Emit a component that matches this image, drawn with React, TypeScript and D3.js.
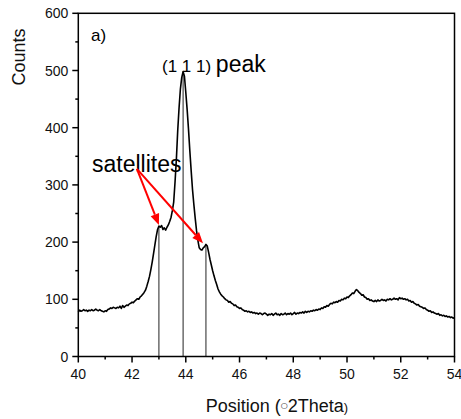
import React from "react";
import * as d3 from "d3";

// XRD scan: counts sampled every 0.05 °2Theta starting at 40
const scanStart = 40;
const scanStep = 0.05;
const counts = [
  78, 81, 79, 80, 82, 80, 81, 79, 81, 80, 82, 80, 81, 83, 81, 80, 82, 80, 79, 78,
  80, 79, 82, 83, 85, 84, 86, 85, 84, 86, 85, 88, 84, 89, 86, 88, 90, 89, 92, 93,
  95, 94, 97, 99, 101, 100, 104, 106, 109, 112, 116, 123, 131, 140, 152, 165, 180, 195, 210, 222,
  228, 226, 229, 222, 225, 221, 226, 230, 236, 243, 255, 270, 305, 345, 395, 435, 468, 488, 498, 490,
  462, 432, 398, 360, 325, 292, 266, 242, 220, 203, 190, 187, 186, 190, 192, 196, 193, 182, 170, 160,
  150, 141, 133, 126, 118, 113, 109, 106, 104, 101, 99, 98, 95, 96, 93, 92, 89, 90, 87, 86,
  84, 85, 82, 81, 79, 80, 78, 79, 77, 78, 76, 77, 75, 76, 74, 76, 75, 73, 75, 76,
  74, 72, 74, 73, 75, 72, 74, 76, 73, 74, 72, 75, 73, 74, 76, 73, 75, 74, 76, 73,
  75, 77, 74, 76, 75, 77, 76, 78, 76, 79, 77, 79, 78, 80, 79, 81, 80, 82, 81, 83,
  82, 85, 84, 87, 86, 89, 88, 91, 93, 92, 95, 94, 96, 95, 98, 97, 100, 99, 102, 101,
  104, 103, 106, 108, 111, 110, 114, 117, 115, 112, 110, 107, 108, 104, 103, 100, 101, 98, 99, 97,
  96, 98, 96, 99, 97, 98, 100, 98, 99, 97, 100, 99, 101, 99, 100, 102, 100, 101, 99, 103,
  101, 102, 100, 101, 99, 100, 97, 98, 95, 96, 93, 92, 90, 91, 88, 87, 86, 84, 85, 82,
  81, 79, 80, 77, 78, 76, 75, 74, 75, 72, 73, 71, 72, 70, 71, 69, 70, 68, 69, 67,
  68,
];

const xTicks = [40, 42, 44, 46, 48, 50, 52, 54];
const xMinorTicks = [41, 43, 45, 47, 49, 51, 53];
const yTicks = [0, 100, 200, 300, 400, 500, 600];
const yMinorTicks = [50, 150, 250, 350, 450, 550];

// peak markers (vertical drop lines)
const peakPositions = [43.0, 43.9, 44.75];
const peakCounts = [228, 498, 196];

// satellite arrows: origin and the two targets
const arrowOrigin = [42.18, 328];
const arrowTargets = [
  [43.0, 230],
  [44.64, 198],
];

const W = 461;
const H = 419;
const left = 78.3;
const right = 454.5;
const top = 13.3;
const bottom = 356.5;
const FONT = "'Liberation Sans', Arial, sans-serif";

export default function App() {
  const x = d3.scaleLinear().domain([40, 54]).range([left, right]);
  const y = d3.scaleLinear().domain([0, 600]).range([bottom, top]);
  const pts: [number, number][] = counts.map((c, i) => [scanStart + i * scanStep, c]);
  const line = d3
    .line<[number, number]>()
    .x((d) => x(d[0]))
    .y((d) => y(d[1]));

  const arrow = (tx: number, ty: number, k: number) => {
    const x0 = x(arrowOrigin[0]);
    const y0 = y(arrowOrigin[1]);
    const x1 = x(tx);
    const y1 = y(ty);
    const ang = Math.atan2(y1 - y0, x1 - x0);
    const hl = 11;
    const hw = 4.5;
    const bx = x1 - hl * Math.cos(ang);
    const by = y1 - hl * Math.sin(ang);
    const px = -Math.sin(ang);
    const py = Math.cos(ang);
    return (
      <g key={k}>
        <line x1={x0} y1={y0} x2={bx} y2={by} stroke="#ff0000" strokeWidth={2} />
        <polygon
          points={`${x1},${y1} ${bx + px * hw},${by + py * hw} ${bx - px * hw},${by - py * hw}`}
          fill="#ff0000"
        />
      </g>
    );
  };

  return (
    <svg
      width={W}
      height={H}
      style={{ position: "absolute", left: 0, top: 0, background: "#fff" }}
      fontFamily={FONT}
    >
      <rect x={0} y={0} width={W} height={H} fill="#fff" />
      {/* drop lines */}
      {peakPositions.map((p, i) => (
        <line
          key={i}
          x1={x(p)}
          x2={x(p)}
          y1={y(0)}
          y2={y(peakCounts[i])}
          stroke="#222"
          strokeWidth={1}
        />
      ))}
      {/* scan */}
      <path d={line(pts) || ""} fill="none" stroke="#000" strokeWidth={1.6} strokeLinejoin="round" />
      {/* frame */}
      <rect
        x={left}
        y={top}
        width={right - left}
        height={bottom - top}
        fill="none"
        stroke="#000"
        strokeWidth={1.5}
      />
      {/* y ticks */}
      {yTicks.map((t) => (
        <g key={"y" + t}>
          <line x1={left - 6} x2={left} y1={y(t)} y2={y(t)} stroke="#000" strokeWidth={1.5} />
          <text x={left - 10} y={y(t) + 5} fontSize={14} textAnchor="end" fill="#111">
            {t}
          </text>
        </g>
      ))}
      {yMinorTicks.map((t) => (
        <line key={"ym" + t} x1={left - 3} x2={left} y1={y(t)} y2={y(t)} stroke="#000" strokeWidth={1.5} />
      ))}
      {/* x ticks */}
      {xTicks.map((t) => (
        <g key={"x" + t}>
          <line x1={x(t)} x2={x(t)} y1={bottom} y2={bottom + 6} stroke="#000" strokeWidth={1.5} />
          <text x={x(t)} y={bottom + 22} fontSize={14} textAnchor="middle" fill="#111">
            {t}
          </text>
        </g>
      ))}
      {xMinorTicks.map((t) => (
        <line key={"xm" + t} x1={x(t)} x2={x(t)} y1={bottom} y2={bottom + 3} stroke="#000" strokeWidth={1.5} />
      ))}
      {/* axis titles */}
      <text
        transform={`translate(25,57) rotate(-90)`}
        fontSize={18}
        textAnchor="middle"
        fill="#111"
      >
        Counts
      </text>
      <text x={277} y={412} fontSize={18} textAnchor="middle" fill="#111">
        Position (<tspan fontFamily="'DejaVu Sans', sans-serif" fontSize={8} dy={-4}>○</tspan>
        <tspan dy={4}>2Theta</tspan>
        <tspan fontSize={13}>)</tspan>
      </text>
      {/* annotations */}
      <text x={91} y={41} fontSize={17} fill="#000">
        a)
      </text>
      <text x={162} y={72} fill="#000">
        <tspan fontSize={17}>(1 1 1) </tspan>
        <tspan fontSize={23}>peak</tspan>
      </text>
      <text x={92} y={172} fontSize={23} fill="#000">
        satellites
      </text>
      {arrowTargets.map((t, i) => arrow(t[0], t[1], i))}
    </svg>
  );
}
